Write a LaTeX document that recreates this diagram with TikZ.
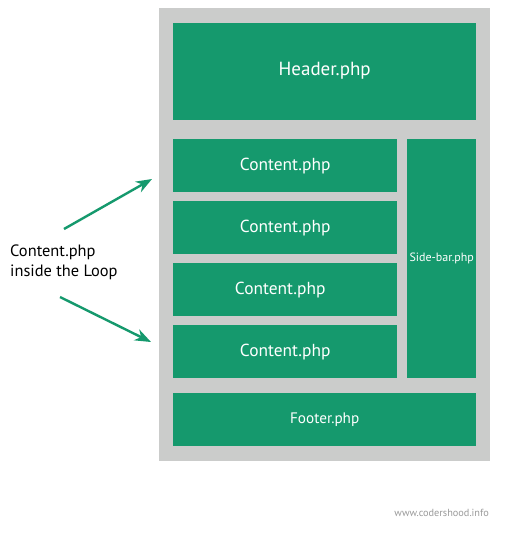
\documentclass[tikz,border=0pt]{standalone}
\usepackage{fontspec}
\setmainfont{PT Sans}
\usetikzlibrary{arrows.meta}
\definecolor{grn}{HTML}{15996D}
\definecolor{frame}{HTML}{CBCCCB}
\definecolor{mark}{HTML}{9A9A9A}
\begin{document}
\begin{tikzpicture}[x=1pt,y=-1pt,
  blk/.style={fill=grn,draw=none,text=white,anchor=north west,inner sep=0pt},
  arr/.style={draw=grn,line width=2.4pt,-{Stealth[length=16pt,width=12pt,inset=5pt]}}]
\useasboundingbox (0,0) rectangle (510,542);
\fill[white] (0,0) rectangle (510,542);
\node[fill=frame,anchor=north west,minimum width=331pt,minimum height=453pt,inner sep=0pt] (frm) at (159,8) {};
\node[blk,minimum width=303pt,minimum height=97pt,font=\fontsize{19}{22}\selectfont] (hdr) at (173,23) {\raisebox{6pt}{Header.php}};
\node[blk,minimum width=224pt,minimum height=53pt,font=\fontsize{17.4}{20}\selectfont] (c1) at (173,139) {Content.php};
\node[blk,minimum width=224pt,minimum height=53pt,font=\fontsize{17.4}{20}\selectfont] (c2) at (173,201) {Content.php};
\node[blk,minimum width=224pt,minimum height=53pt,font=\fontsize{17.4}{20}\selectfont] (c3) at (173,263) {\hspace*{-10pt}Content.php};
\node[blk,minimum width=224pt,minimum height=53pt,font=\fontsize{17.4}{20}\selectfont] (c4) at (173,325) {Content.php};
\node[blk,minimum width=69pt,minimum height=239pt,font=\fontsize{12}{14}\selectfont] (sb) at (407,139) {\raisebox{2pt}{Side-bar.php}};
\node[blk,minimum width=303pt,minimum height=53pt,font=\fontsize{15.2}{18}\selectfont] (ftr) at (173,393) {Footer.php};
\node[anchor=west,align=left,inner sep=0pt,font=\fontsize{16.4}{20}\selectfont] (lbl) at (10,262) {Content.php\\inside the Loop};
\coordinate (a1s) at (64,229);
\coordinate (a1e) at (152,179);
\coordinate (a2s) at (60,297);
\coordinate (a2e) at (151,342);
\draw[arr] (a1s) -- (a1e);
\draw[arr] (a2s) -- (a2e);
\node[anchor=east,inner sep=0pt,text=mark,font=\fontsize{10.3}{12}\selectfont] (wm) at (489,513) {www.codershood.info};
\end{tikzpicture}
\end{document}
